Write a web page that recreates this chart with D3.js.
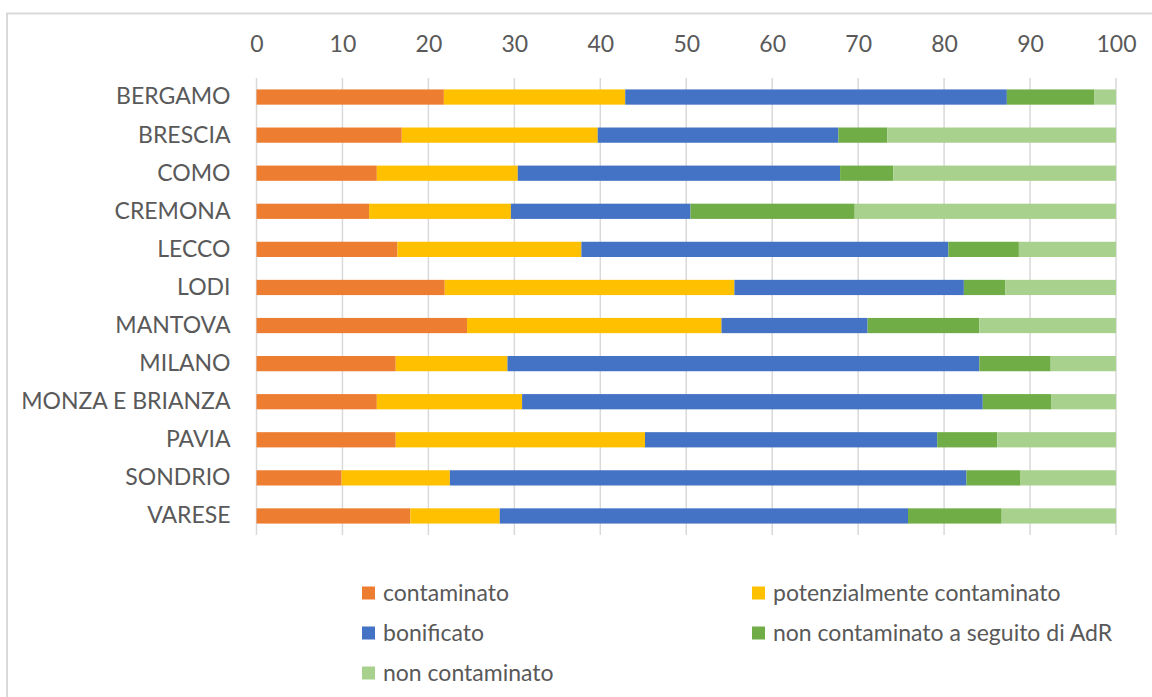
<!DOCTYPE html>
<html>
<head>
<meta charset="utf-8">
<script src="https://cdn.jsdelivr.net/npm/d3@7"></script>
<style>
  html, body { margin: 0; padding: 0; background: #ffffff; }
  svg { display: block; font-family: Lato, "Liberation Sans", Arial, sans-serif; }
</style>
</head>
<body>
<svg id="chart" width="1152" height="697"></svg>
<script>
// Province names, top to bottom
const provinces = ["BERGAMO", "BRESCIA", "COMO", "CREMONA", "LECCO", "LODI",
  "MANTOVA", "MILANO", "MONZA E BRIANZA", "PAVIA", "SONDRIO", "VARESE"];

// Site status series (percent of sites per province)
const seriesNames = ["contaminato", "potenzialmente contaminato", "bonificato",
  "non contaminato a seguito di AdR", "non contaminato"];
const contaminato      = [21.8, 16.9, 14.0, 13.1, 16.4, 21.9, 24.5, 16.2, 14.0, 16.2,  9.9, 17.9];
const potenzialmente   = [21.1, 22.8, 16.4, 16.5, 21.4, 33.7, 29.6, 13.0, 16.9, 29.0, 12.6, 10.4];
const bonificato       = [44.4, 28.0, 37.5, 20.9, 42.7, 26.7, 17.0, 54.9, 53.6, 34.0, 60.1, 47.5];
const nonContAdR       = [10.2,  5.7,  6.2, 19.1,  8.2,  4.8, 13.0,  8.3,  8.0,  7.0,  6.3, 10.9];
const nonContaminato   = [ 2.5, 26.6, 25.9, 30.4, 11.3, 12.9, 15.9,  7.6,  7.5, 13.8, 11.1, 13.3];

const xTicks = [0, 10, 20, 30, 40, 50, 60, 70, 80, 90, 100];
const colors = ["#ED7D31", "#FFC000", "#4472C4", "#70AD47", "#A9D18E"];

const seriesValues = [contaminato, potenzialmente, bonificato, nonContAdR, nonContaminato];
const keys = ["k0", "k1", "k2", "k3", "k4"];
const rows = provinces.map((p, i) => {
  const r = { province: p };
  keys.forEach((k, j) => { r[k] = seriesValues[j][i]; });
  return r;
});

const svg = d3.select("#chart");
const textColor = "#595959";
const gridColor = "#d9d9d9";
const fontFamily = "Lato, 'Liberation Sans', Arial, sans-serif";

// Outer chart frame
svg.append("rect")
  .attr("x", 7).attr("y", 13.5)
  .attr("width", 1170).attr("height", 720)
  .attr("fill", "none").attr("stroke", gridColor).attr("stroke-width", 2);

const plot = { left: 256.5, right: 1116, top: 78, bottom: 535 };

const x = d3.scaleLinear().domain([0, 100]).range([plot.left, plot.right]);
const y = d3.scaleBand().domain(provinces).range([plot.top, plot.bottom]).paddingInner(0.6).paddingOuter(0.3);

// Vertical gridlines
svg.append("g")
  .selectAll("line")
  .data(xTicks)
  .join("line")
  .attr("x1", d => x(d)).attr("x2", d => x(d))
  .attr("y1", plot.top).attr("y2", plot.bottom)
  .attr("stroke", gridColor).attr("stroke-width", 1.5);

// Top value axis
const xAxis = svg.append("g")
  .attr("transform", `translate(0,${plot.top})`)
  .call(d3.axisTop(x).tickValues(xTicks).tickSize(0).tickPadding(26));
xAxis.select(".domain").remove();
xAxis.selectAll("text")
  .attr("fill", textColor)
  .style("font-size", "23px")
  .style("font-family", fontFamily);

// Category axis
const yAxis = svg.append("g")
  .attr("transform", `translate(${plot.left},0)`)
  .call(d3.axisLeft(y).tickSize(0).tickPadding(26));
yAxis.select(".domain").remove();
yAxis.selectAll("text")
  .attr("fill", textColor)
  .style("font-size", "23px")
  .style("font-family", fontFamily);

// Stacked bars
const stacked = d3.stack().keys(keys)(rows);
svg.append("g")
  .selectAll("g")
  .data(stacked)
  .join("g")
  .attr("fill", (d, i) => colors[i])
  .selectAll("rect")
  .data(d => d)
  .join("rect")
  .attr("x", d => x(d[0]))
  .attr("width", d => x(d[1]) - x(d[0]))
  .attr("y", d => y(d.data.province))
  .attr("height", y.bandwidth());

// Legend: two columns, three rows
const legendCols = [362, 752];
const legendRows = [593, 633, 673];
const legend = svg.append("g")
  .selectAll("g")
  .data(seriesNames)
  .join("g")
  .attr("transform", (d, i) => `translate(${legendCols[i % 2]},${legendRows[Math.floor(i / 2)]})`);
legend.append("rect")
  .attr("x", 0).attr("y", -6.5)
  .attr("width", 13).attr("height", 13)
  .attr("fill", (d, i) => colors[i]);
legend.append("text")
  .attr("x", 21).attr("y", 0)
  .attr("dy", "0.35em")
  .attr("fill", textColor)
  .style("font-size", "23px")
  .style("font-family", fontFamily)
  .text(d => d);
</script>
</body>
</html>
